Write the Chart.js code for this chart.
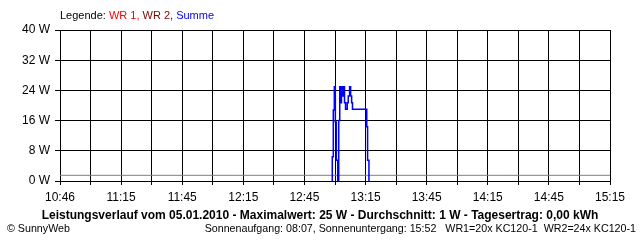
<!DOCTYPE html>
<html>
<head>
<meta charset="utf-8">
<script src="https://cdn.jsdelivr.net/npm/chart.js@4.4.1/dist/chart.umd.min.js"></script>
<style>
  html, body { margin: 0; padding: 0; background: #fff; }
  #c { display: block; }
</style>
</head>
<body>
<canvas id="c" width="640" height="240"></canvas>
<script>
// x axis runs in minutes since midnight, one grid line every 15 min
const xMin = 645;
const xMax = 915;
const xLabels = ['10:46', '', '11:15', '', '11:45', '', '12:15', '', '12:45', '', '13:15', '', '13:45', '', '14:15', '', '14:45', '', '15:15'];

// Summe (blue)
const sumTimes = ['12:58:20', '12:58:40', '12:59:10', '12:59:40', '13:00:10', '13:00:40', '13:01:20', '13:01:50', '13:02:20',
                  '13:02:50', '13:03:10', '13:03:40', '13:04:10', '13:04:40', '13:05:10', '13:06:00', '13:06:30', '13:07:10',
                  '13:07:40', '13:08:10', '13:08:35', '13:15:35', '13:16:00', '13:16:40'];
const sumWatts = [0, 6.4, 18.8, 25, 15.6, 5.5, 0, 16, 25,
                  20.7, 25, 22.5, 25, 20.7, 19, 20.7, 22.5, 25,
                  22.5, 20.7, 19, 14.4, 5.5, 0];

// grey line just above zero
const avgWatts = 1.5;

const seriesNames = ['WR 1', 'WR 2', 'Summe'];
const seriesColors = ['#ff0000', '#800000', '#0000ff'];

const titleText = 'Leistungsverlauf vom 05.01.2010 - Maximalwert: 25 W - Durchschnitt: 1 W - Tagesertrag: 0,00 kWh';
const footLeft = '\u00a9 SunnyWeb';
const footRight = 'Sonnenaufgang: 08:07, Sonnenuntergang: 15:52   WR1=20x KC120-1  WR2=24x KC120-1';

const FONT = '"Liberation Sans", Arial, sans-serif';

function toMin(t) {
  const p = t.split(':').map(Number);
  return p[0] * 60 + p[1] + (p[2] || 0) / 60;
}

// Legend line, title and footer drawn as plain text
const textPlugin = {
  id: 'sunnyText',
  afterDraw(chart) {
    const ctx = chart.ctx;
    ctx.save();
    ctx.textBaseline = 'middle';

    // legend
    ctx.font = '11px ' + FONT;
    let x = 60;
    const parts = [['Legende: ', '#000']];
    seriesNames.forEach((n, i) => {
      parts.push([n + (i < seriesNames.length - 1 ? ', ' : ''), seriesColors[i]]);
    });
    parts.forEach(([t, c]) => {
      ctx.fillStyle = c;
      ctx.textAlign = 'left';
      ctx.fillText(t, x, 16);
      x += ctx.measureText(t).width;
    });

    // title
    ctx.fillStyle = '#000';
    ctx.font = 'bold 12px ' + FONT;
    ctx.textAlign = 'center';
    ctx.fillText(titleText, 320, 216);

    // footer
    ctx.font = '10.7px ' + FONT;
    ctx.textAlign = 'left';
    ctx.fillText(footLeft, 7, 229);
    ctx.textAlign = 'right';
    ctx.fillText(footRight, 636, 229);
    ctx.restore();
  }
};

new Chart(document.getElementById('c'), {
  type: 'line',
  data: {
    datasets: [
      {
        label: 'Summe',
        data: sumTimes.map((t, i) => ({ x: toMin(t), y: sumWatts[i] })),
        borderColor: seriesColors[2],
        borderWidth: 1.5,
        stepped: true,
        pointRadius: 0,
        fill: false,
        order: 1
      },
      {
        label: 'avg',
        data: [{ x: xMin, y: avgWatts }, { x: xMax, y: avgWatts }],
        borderColor: '#808080',
        borderWidth: 1,
        pointRadius: 0,
        fill: false,
        order: 2
      }
    ]
  },
  plugins: [textPlugin],
  options: {
    responsive: false,
    animation: false,
    devicePixelRatio: 1,
    layout: { padding: { top: 30, right: 30, bottom: 37, left: 0 } },
    plugins: {
      legend: { display: false },
      tooltip: { enabled: false }
    },
    scales: {
      x: {
        type: 'linear',
        min: xMin,
        max: xMax,
        afterFit: s => { s.height = 22; },
        grid: { color: '#000', lineWidth: 1, tickLength: 4 },
        border: { color: '#000' },
        ticks: {
          stepSize: 15,
          autoSkip: false,
          maxRotation: 0,
          padding: 5,
          color: '#000',
          font: { family: FONT, size: 12 },
          callback: (v, i) => xLabels[i]
        }
      },
      y: {
        min: 0,
        max: 40,
        afterFit: s => { s.width = 60; },
        grid: { color: '#000', lineWidth: 1, tickLength: 5 },
        border: { color: '#000' },
        ticks: {
          stepSize: 8,
          padding: 5,
          color: '#000',
          font: { family: FONT, size: 12 },
          callback: v => v + ' W'
        }
      }
    }
  }
});
</script>
</body>
</html>
